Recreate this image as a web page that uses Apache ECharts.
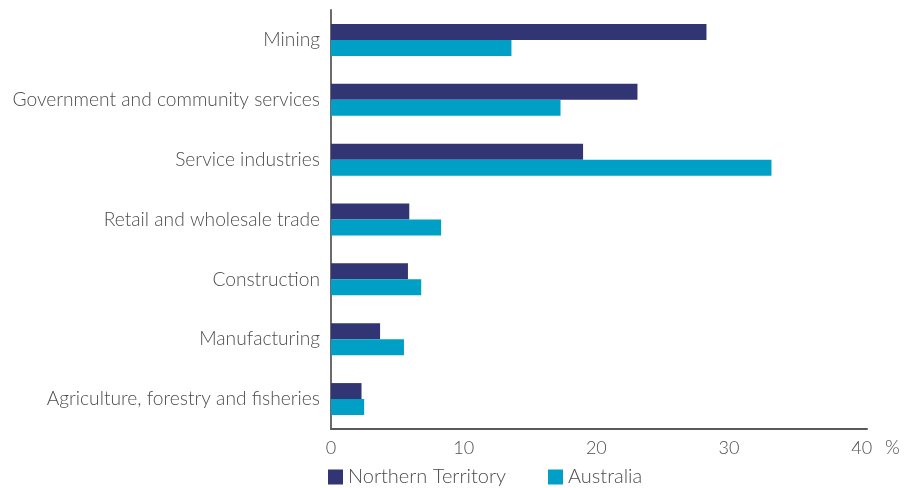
<!DOCTYPE html>
<html>
<head>
<meta charset="utf-8">
<script src="https://cdn.jsdelivr.net/npm/echarts@6/dist/echarts.min.js"></script>
<style>
  html, body { margin: 0; padding: 0; background: #fff; }
  #chart { width: 907px; height: 488px; }
</style>
</head>
<body>
<div id="chart"></div>
<script>
// Industry share of output, per cent (top to bottom)
const industries = [
  'Mining',
  'Government and community services',
  'Service industries',
  'Retail and wholesale trade',
  'Construction',
  'Manufacturing',
  'Agriculture, forestry and fisheries'
];
const northernTerritory = [28.3, 23.1, 19.0, 5.9, 5.8, 3.7, 2.3];
const australia = [13.6, 17.3, 33.2, 8.3, 6.8, 5.5, 2.5];
const seriesNames = ['Northern Territory', 'Australia'];
const xTicks = [0, 10, 20, 30, 40];

const FONT = 'Lato, "Open Sans", sans-serif';
const TEXT = '#4d4d4d';

const chart = echarts.init(document.getElementById('chart'), null, { renderer: 'canvas' });
chart.setOption({
  animation: false,
  backgroundColor: '#ffffff',
  textStyle: { fontFamily: FONT },
  grid: { left: 331, right: 40, top: 10, height: 419, containLabel: false },
  legend: {
    data: seriesNames,
    left: 323,
    top: 462,
    itemWidth: 15,
    itemHeight: 15,
    itemGap: 42,
    icon: 'rect',
    textStyle: { fontFamily: FONT, fontSize: 20, color: TEXT, fontWeight: 300 }
  },
  xAxis: {
    type: 'value',
    min: 0,
    max: 40.4,
    interval: 10,
    name: '%',
    nameLocation: 'end',
    nameGap: 18,
    nameTextStyle: { fontFamily: FONT, fontSize: 19, color: TEXT, fontWeight: 300, verticalAlign: 'top', padding: [9, 0, 0, 0] },
    axisLine: { show: true, lineStyle: { color: '#595959', width: 2 } },
    axisTick: { show: false },
    splitLine: { show: false },
    axisLabel: {
      margin: 10,
      fontFamily: FONT, fontSize: 18, color: TEXT, fontWeight: 300,
      showMaxLabel: true,
      formatter: v => (xTicks.indexOf(v) >= 0 ? String(v) : '')
    }
  },
  yAxis: {
    type: 'category',
    data: industries,
    inverse: true,
    axisLine: { show: true, lineStyle: { color: '#6b6b6b', width: 2 } },
    axisTick: { show: false },
    axisLabel: { margin: 11, fontFamily: FONT, fontSize: 19.2, color: TEXT, fontWeight: 300 }
  },
  series: [
    {
      name: seriesNames[0],
      type: 'bar',
      data: northernTerritory,
      barWidth: 16,
      barGap: '0%',
      itemStyle: { color: '#323573' }
    },
    {
      name: seriesNames[1],
      type: 'bar',
      data: australia,
      barWidth: 16,
      barGap: '0%',
      itemStyle: { color: '#009fc5' }
    }
  ]
});
</script>
</body>
</html>
